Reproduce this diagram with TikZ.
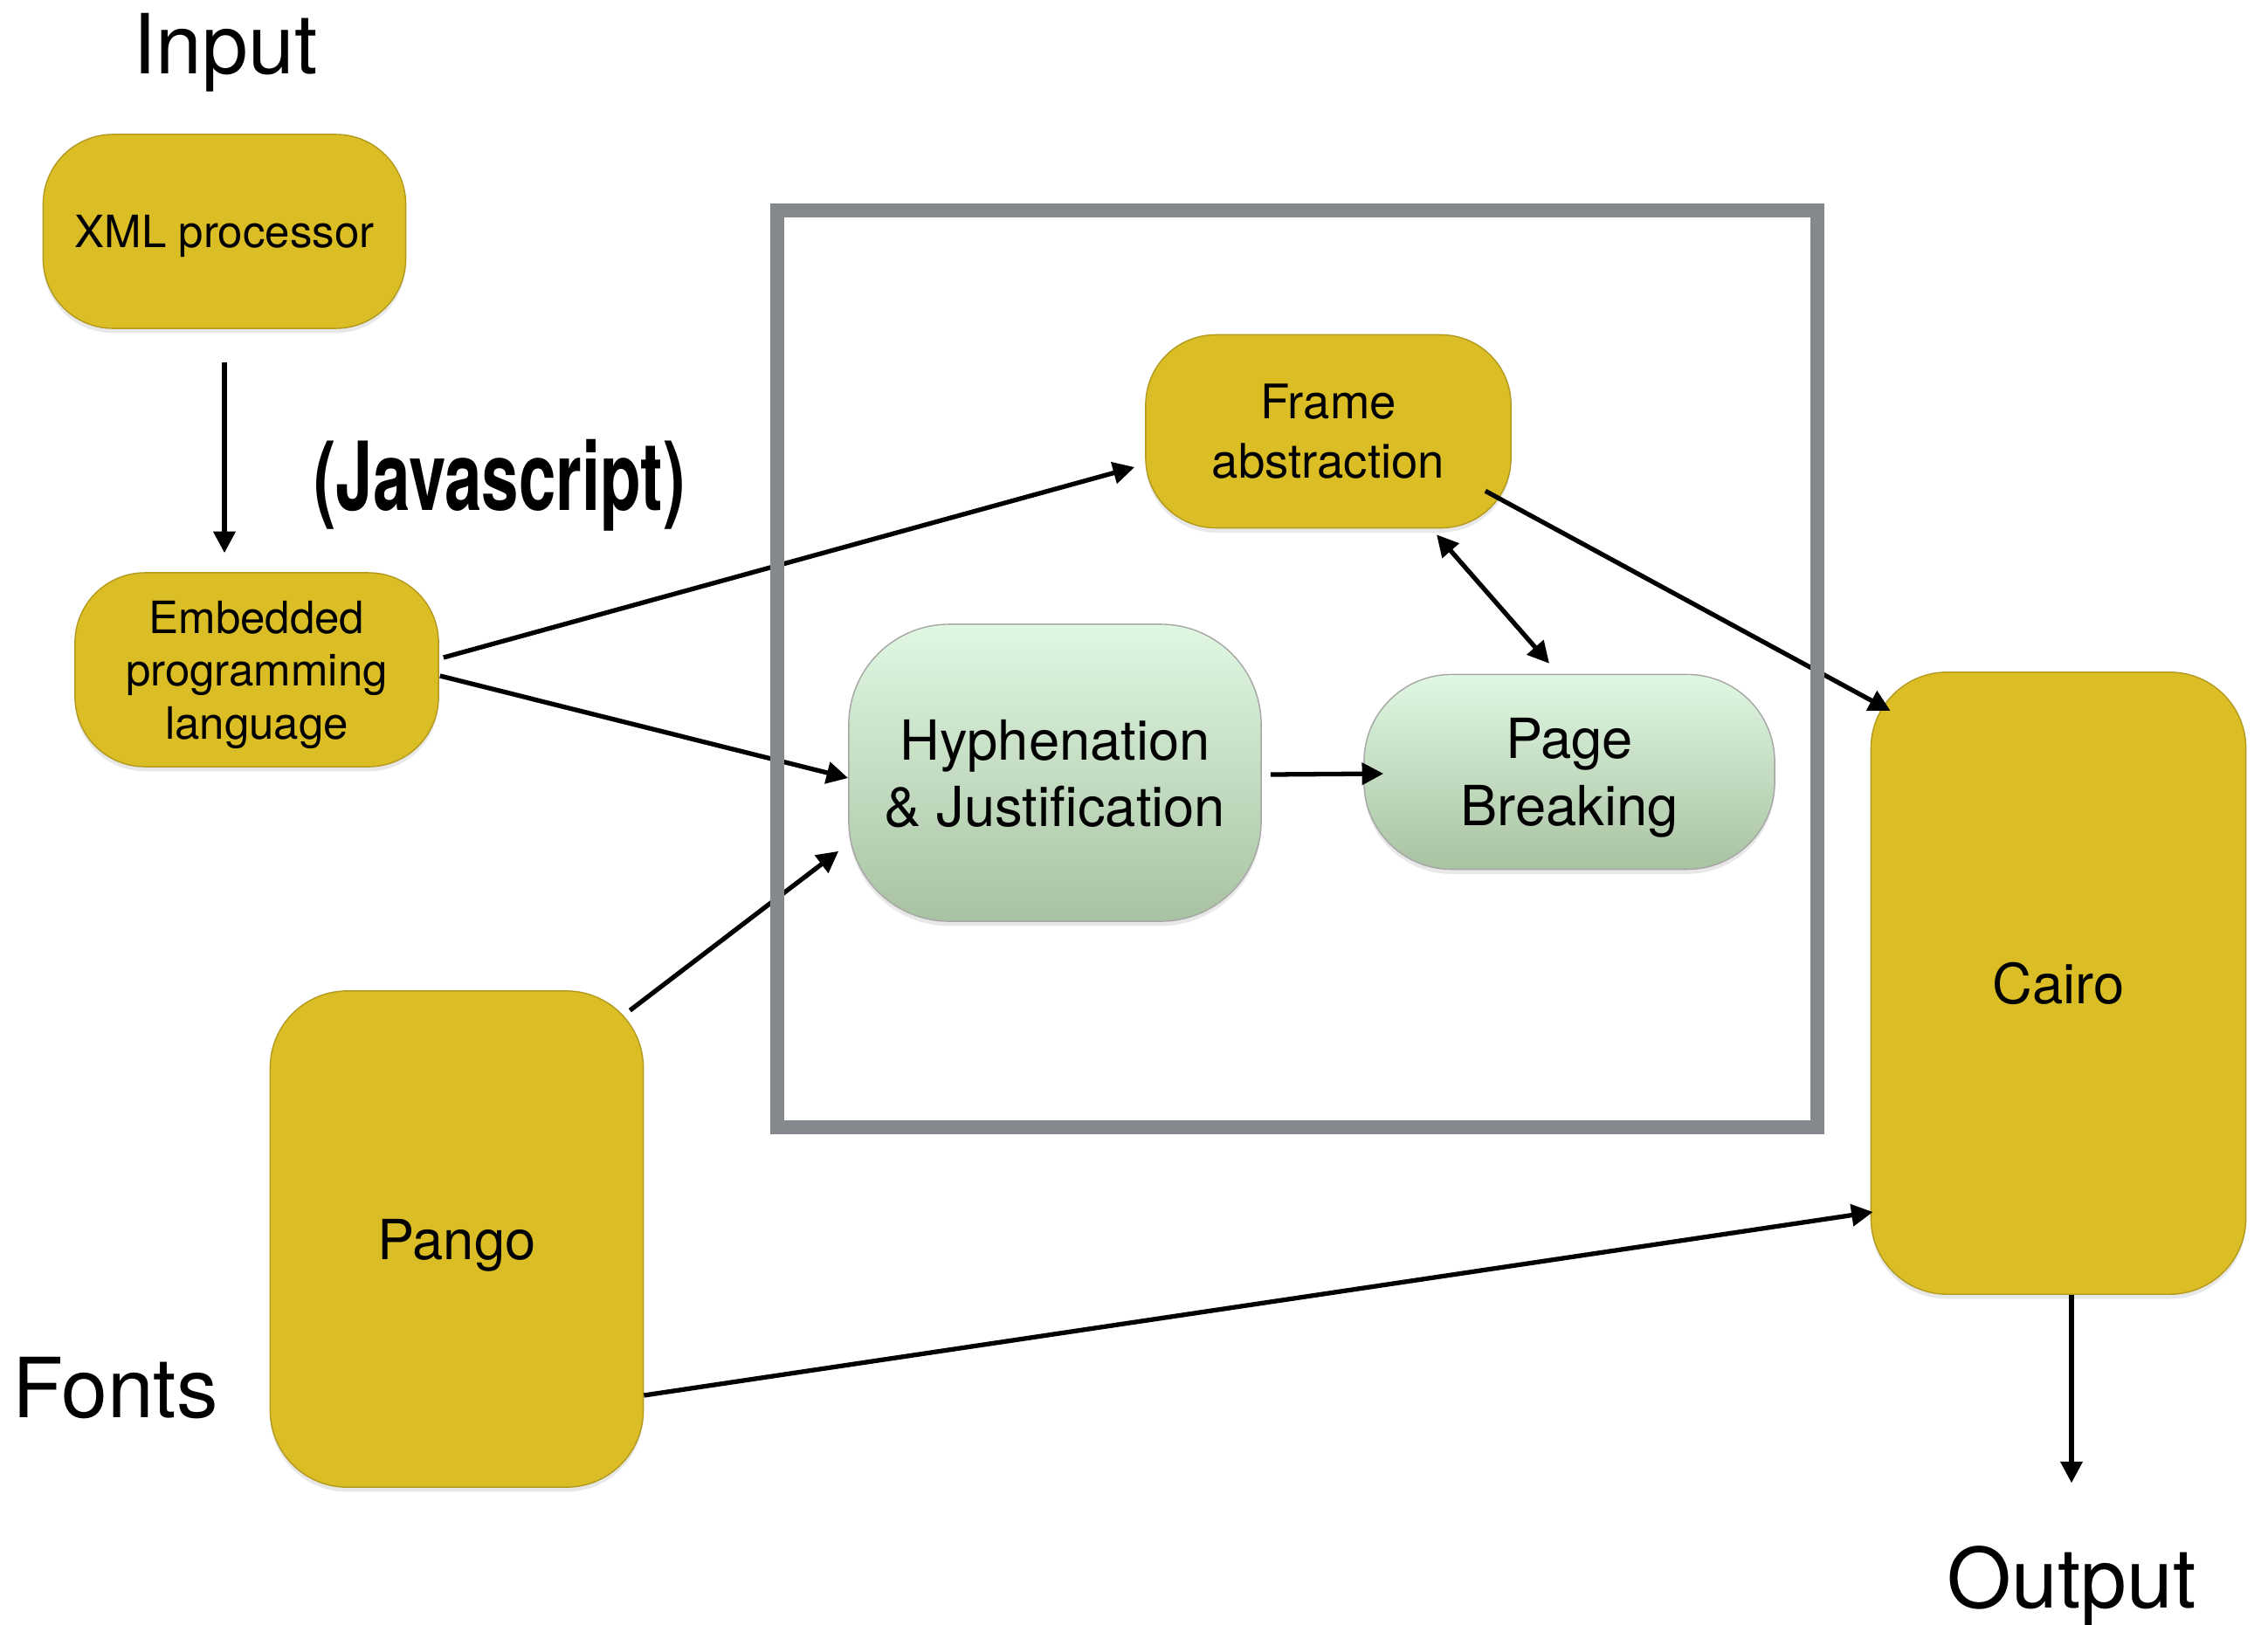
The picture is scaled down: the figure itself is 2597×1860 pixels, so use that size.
\documentclass[tikz,border=0pt]{standalone}
\usepackage{fontspec}
\setmainfont{TeX Gyre Heros}
\usetikzlibrary{arrows.meta,shadows}
\definecolor{gold}{HTML}{DBBE25}
\definecolor{goldline}{HTML}{B39A1F}
\definecolor{mint}{HTML}{E0F7E2}
\definecolor{sage}{HTML}{A9C2A2}
\definecolor{frameline}{HTML}{85888C}
\begin{document}
\begin{tikzpicture}[x=0.01cm,y=-0.01cm,>={Triangle[length=7pt,width=7pt]}]
\tikzstyle{every node}+=[inner sep=0pt]
\tikzstyle{gold box}=[draw=goldline, line width=0.4pt, fill=gold, align=center, text depth=0pt, drop shadow={shadow xshift=0pt, shadow yshift=-1.5pt, opacity=0.18}]
\tikzstyle{mint box}=[draw=black!35, line width=0.4pt, top color=mint, bottom color=sage, align=center, text depth=0pt, drop shadow={shadow xshift=0pt, shadow yshift=-1.5pt, opacity=0.18}]
\tikzstyle{link}=[line width=1.5pt, ->]
\tikzstyle{big label}=[font=\fontsize{27}{32}\selectfont, anchor=base]
\useasboundingbox (0,0) rectangle (2597,1860);
\node [big label] (input) at (258,84) {Input};
\node [big label] (fonts) at (132,1623) {Fonts};
\node [big label] (output) at (2372,1841) {Output};
\node [font=\fontsize{31}{36}\selectfont\bfseries] (js) at (572,556) {\scalebox{0.7}[1]{(Javascript)}};
\node [gold box, minimum width=4.15cm, minimum height=2.22cm, rounded corners=0.8cm, font=\fontsize{14.5}{17.2}\selectfont] (xml) at (257,265) {XML processor};
\node [gold box, minimum width=4.16cm, minimum height=2.22cm, rounded corners=0.8cm, font=\fontsize{14.5}{17.2}\selectfont] (emb) at (294,767) {Embedded\\programming\\language};
\node [gold box, minimum width=4.18cm, minimum height=2.21cm, rounded corners=0.8cm, font=\fontsize{15.5}{19.4}\selectfont] (frame) at (1521,494) {Frame\\abstraction};
\node [mint box, minimum width=4.72cm, minimum height=3.40cm, rounded corners=1.15cm, font=\fontsize{18}{21.6}\selectfont] (hyph) at (1208,885) {Hyphenation\\\& Justification};
\node [mint box, minimum width=4.70cm, minimum height=2.23cm, rounded corners=1cm, font=\fontsize{18}{22}\selectfont] (page) at (1797,884) {Page\\Breaking};
\node [gold box, minimum width=4.29cm, minimum height=7.12cm, rounded corners=0.87cm, font=\fontsize{18}{21.6}\selectfont] (cairo) at (2357,1126) {Cairo};
\node [gold box, minimum width=4.27cm, minimum height=5.68cm, rounded corners=0.88cm, font=\fontsize{18}{21.6}\selectfont] (pango) at (523,1419) {Pango};
\draw [link] ([shift={(0,38)}]xml.south) -- ([shift={(-37,-22)}]emb.north);
\draw [link] ([shift={(5,-14)}]emb.east) -- ([shift={(-12,41)}]frame.west);
\draw [link] ([shift={(1,7)}]emb.east) -- ([shift={(0,6)}]hyph.west);
\draw [link] ([shift={(-16,23)}]pango.north east) -- ([shift={(-11,-81)}]hyph.south west);
\draw [link] ([shift={(10,2)}]hyph.east) -- ([shift={(23,2)}]page.west);
\draw [link, <->] ([shift={(124,7)}]frame.south) -- ([shift={(-23,-12)}]page.north);
\draw [link] ([shift={(-30,-43)}]frame.south east) -- ([shift={(23,45)}]cairo.north west);
\draw [link] ([shift={(0,179)}]pango.east) -- ([shift={(3,262)}]cairo.west);
\draw [link] ([shift={(15,0)}]cairo.south) -- ([shift={(0,-71)}]output.north);
\draw [frameline, line width=4.5pt] (890,241) rectangle (2081,1291);
\end{tikzpicture}
\end{document}
